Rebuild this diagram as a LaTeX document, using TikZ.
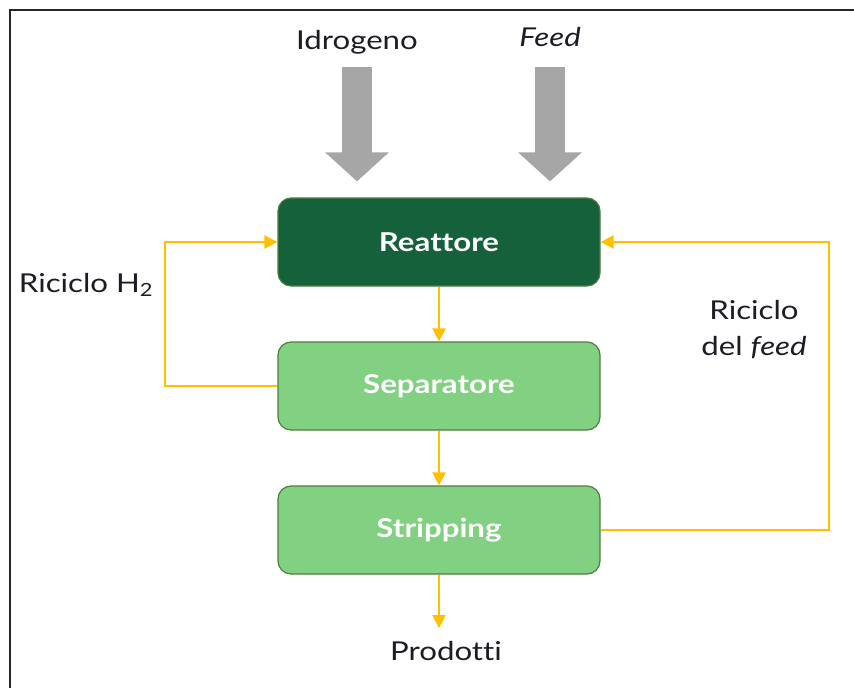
\documentclass[tikz,border=0pt]{standalone}
\usepackage{fontspec}
\setmainfont{Lato}[FakeStretch=1.2, Ligatures=NoCommon]
\usetikzlibrary{arrows.meta}
\definecolor{dkgreen}{HTML}{14613B}
\definecolor{ltgreen}{HTML}{82D183}
\definecolor{boxedge}{HTML}{4E7F3A}
\definecolor{flowc}{HTML}{FFC000}
\definecolor{feedgray}{HTML}{A6A6A6}
\definecolor{txt}{HTML}{1C1C24}
\tikzset{
  unitbox/.style={rounded corners=13pt, minimum width=322pt, minimum height=88pt,
    draw=boxedge, line width=1.2pt, text=white, font=\fontsize{26}{30}\selectfont\bfseries},
  lbl/.style={text=txt, font=\fontsize{26}{32}\selectfont, inner sep=0pt},
  flow/.style={draw=flowc, line width=2pt, -{Triangle[length=13pt,width=13pt]}},
  bigarrow/.style={draw=feedgray, line width=30pt, line cap=butt,
    -{Triangle[length=29pt,width=62pt]}},
}
\begin{document}
\begin{tikzpicture}[x=1pt, y=-1pt]
  \useasboundingbox (0,0) rectangle (854,688);
  % open frame: top and left edges only
  \draw[line width=2pt, black!85] (10,688) -- (10,10) -- (854,10);

  % process units
  \node[unitbox, fill=dkgreen] (reat) at (439,242) {Reattore};
  \node[unitbox, fill=ltgreen] (sep) at (439,386) {Separatore};
  \node[unitbox, fill=ltgreen] (strip) at (439,530) {Stripping};

  % inputs
  \node[lbl] (idro) at (357,42) {Idrogeno};
  \node[lbl] (feed) at (550,37) {\itshape Feed};
  \coordinate (idroS) at (357,67);
  \coordinate (feedS) at (550,67);
  \draw[bigarrow] (idroS) -- ([yshift=16pt]reat.north -| idroS);
  \draw[bigarrow] (feedS) -- ([yshift=16pt]reat.north -| feedS);

  % main flow
  \draw[flow] (reat) -- (sep);
  \draw[flow] (sep) -- (strip);
  \node[lbl] (prod) at (446,651) {Prodotti};
  \draw[flow, shorten >=13pt] (strip.south) -- (strip.south |- prod.north);

  % recycles
  \draw[flow] (sep.west) -- ([xshift=-112pt]sep.west) |- (reat.west);
  \draw[flow] (strip.east) -- ([xshift=228pt]strip.east) |- (reat.east);

  \node[lbl] (rh2) at (86,285) {Riciclo H\textsubscript{2}};
  \node[lbl, align=center, font=\fontsize{26}{36}\selectfont] (rfeed) at (754,330) {Riciclo\\del \textit{feed}};
\end{tikzpicture}
\end{document}
